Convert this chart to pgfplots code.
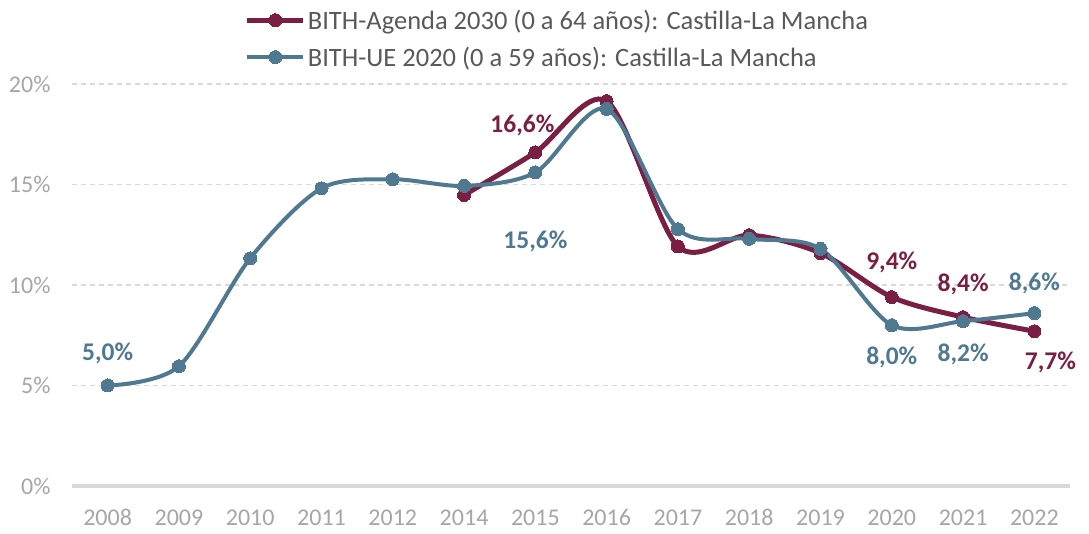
\documentclass[border=0pt]{standalone}
\usepackage{pgfplots}
\pgfplotsset{compat=1.18}
\usepackage{fontspec}
\setmainfont{Carlito}
\definecolor{cred}{RGB}{123,30,68}
\definecolor{cblue}{RGB}{79,121,145}
\definecolor{ctick}{RGB}{166,166,166}
\definecolor{cgrid}{RGB}{217,217,217}
\definecolor{ctext}{RGB}{89,89,89}
\tikzset{lbl/.style={font=\bfseries\fontsize{25.5bp}{30bp}\selectfont}}
\begin{document}
\begin{tikzpicture}
\useasboundingbox (-72bp,-48bp) rectangle (1017bp,486bp);
\begin{axis}[
  at={(0,0)}, anchor=south west,
  scale only axis, width=998bp, height=402bp,
  xmin=-0.5, xmax=13.5, ymin=0, ymax=20,
  xtick={0,...,13},
  xticklabels={2008,2009,2010,2011,2012,2014,2015,2016,2017,2018,2019,2020,2021,2022},
  ytick={0,5,10,15,20},
  yticklabels={0\%,5\%,10\%,15\%,20\%},
  axis line style={draw=none},
  tick style={draw=none},
  ymajorgrids, grid style={cgrid, line width=1.2bp, dash pattern=on 5bp off 4bp},
  ticklabel style={font=\fontsize{24bp}{29bp}\selectfont, text=ctick},
  yticklabel style={xshift=-18bp},
  xticklabel style={yshift=-20bp},
  clip=false,
  legend style={at={(0.170,1.195)}, anchor=north west, draw=none, fill=none,
    font=\fontsize{26.5bp}{32bp}\selectfont, text=ctext, cells={anchor=west},
    row sep=12bp},
  legend image code/.code={\draw[mark repeat=2,mark phase=2,#1] plot coordinates {(0bp,0bp) (28bp,0bp) (56bp,0bp)};},
]
\draw[cgrid, line width=3bp] (rel axis cs:0,0) -- (rel axis cs:1,0);
\addplot[cred, line width=5bp, smooth, mark=*, mark size=6.5bp, mark options={solid, fill=cred, line width=0pt}]
  coordinates {(5,14.48) (6,16.6) (7,19.15) (8,11.92) (9,12.48) (10,11.59) (11,9.4) (12,8.4) (13,7.7)};
\addlegendentry{BITH-Agenda 2030 (0 a 64 años): Castilla-La Mancha}
\addplot[cblue, line width=4bp, smooth, mark=*, mark size=6.5bp, mark options={solid, fill=cblue, line width=0pt}]
  coordinates {(0,5.0) (1,5.96) (2,11.33) (3,14.81) (4,15.26) (5,14.93) (6,15.6) (7,18.76) (8,12.78) (9,12.3) (10,11.8) (11,8.0) (12,8.2) (13,8.6)};
\addlegendentry{BITH-UE 2020 (0 a 59 años): Castilla-La Mancha}
\node[lbl, text=cblue] at (axis cs:0,5.0) [yshift=32bp] {5,0\%};
\node[lbl, text=cred] at (axis cs:6,16.6) [xshift=-13bp, yshift=27bp] {16,6\%};
\node[lbl, text=cblue] at (axis cs:6,15.6) [yshift=-69bp] {15,6\%};
\node[lbl, text=cred] at (axis cs:11,9.4) [yshift=35bp] {9,4\%};
\node[lbl, text=cred] at (axis cs:12,8.4) [yshift=33bp] {8,4\%};
\node[lbl, text=cblue] at (axis cs:13,8.6) [yshift=30bp] {8,6\%};
\node[lbl, text=cblue] at (axis cs:11,8.0) [yshift=-32bp] {8,0\%};
\node[lbl, text=cblue] at (axis cs:12,8.2) [yshift=-33bp] {8,2\%};
\node[lbl, text=cred] at (axis cs:13,7.7) [xshift=16bp, yshift=-31bp] {7,7\%};
\end{axis}
\end{tikzpicture}
\end{document}
